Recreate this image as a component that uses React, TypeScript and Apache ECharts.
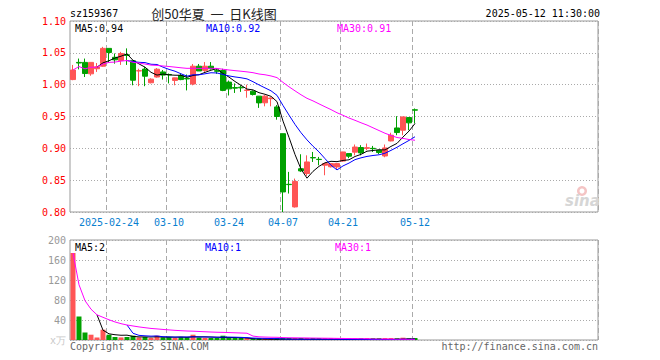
import React, { useEffect, useRef } from "react";
import * as echarts from "echarts";

const dates = [
  "2025-02-14","2025-02-17","2025-02-18","2025-02-19","2025-02-20","2025-02-21",
  "2025-02-24","2025-02-25","2025-02-26","2025-02-27","2025-02-28",
  "2025-03-03","2025-03-04","2025-03-05","2025-03-06","2025-03-07",
  "2025-03-10","2025-03-11","2025-03-12","2025-03-13","2025-03-14",
  "2025-03-17","2025-03-18","2025-03-19","2025-03-20","2025-03-21",
  "2025-03-24","2025-03-25","2025-03-26","2025-03-27","2025-03-28",
  "2025-03-31","2025-04-01","2025-04-02","2025-04-03",
  "2025-04-07","2025-04-08","2025-04-09","2025-04-10","2025-04-11",
  "2025-04-14","2025-04-15","2025-04-16","2025-04-17","2025-04-18",
  "2025-04-21","2025-04-22","2025-04-23","2025-04-24","2025-04-25",
  "2025-04-28","2025-04-29","2025-04-30",
  "2025-05-06","2025-05-07","2025-05-08","2025-05-09","2025-05-12",
];

const opens = [
  1.008,1.035,1.035,1.017,1.025,1.029,1.057,1.043,1.038,1.047,1.0375,
  1.0215,1.0245,1.003,1.012,1.020,1.016,1.0066,1.0145,1.010,1.001,
  1.029,1.0224,1.029,1.022,1.0223,1.004,0.9955,0.996,0.991,0.9898,
  0.982,0.9715,0.978,0.965,0.923,0.8435,0.808,0.868,0.8604,
  0.8855,0.8828,0.8735,0.871,0.8708,0.880,0.8918,0.894,0.9013,0.900,
  0.900,0.897,0.888,0.9116,0.932,0.9285,0.9484,0.9605,
];
const closes = [
  1.023,1.034,1.0175,1.035,1.028,1.057,1.0505,1.039,1.049,1.046,1.007,
  1.022,1.0133,1.0087,1.0243,1.015,1.0155,1.0107,1.008,1.009,1.029,
  1.0215,1.029,1.025,1.021,0.991,0.9934,0.9945,0.995,0.9915,0.9846,
  0.9714,0.982,0.979,0.950,0.8315,0.843,0.848,0.8645,0.8786,
  0.885,0.8824,0.876,0.876,0.876,0.8943,0.8876,0.902,0.8928,0.901,
  0.8995,0.8934,0.9006,0.9206,0.9248,0.9494,0.940,0.960,
];
const lows = [
  1.007,1.024,1.012,1.014,1.020,1.028,1.035,1.033,1.031,1.031,0.999,
  0.9976,0.9976,1.002,1.011,1.008,1.002,0.999,1.007,0.991,0.999,
  1.0217,1.020,1.0237,1.017,0.9898,0.983,0.987,0.9887,0.9795,0.983,
  0.9635,0.966,0.966,0.945,0.800,0.829,0.807,0.863,0.8566,
  0.8786,0.8734,0.8577,0.870,0.8675,0.879,0.8845,0.889,0.889,0.897,
  0.8943,0.891,0.886,0.911,0.9206,0.9206,0.9285,0.939,
];
const highs = [
  1.031,1.041,1.041,1.035,1.034,1.0594,1.057,1.049,1.0515,1.057,1.0385,
  1.025,1.028,1.010,1.026,1.023,1.0175,1.011,1.0175,1.016,1.0325,
  1.0325,1.0355,1.0355,1.025,1.025,1.0065,1.002,0.999,1.000,0.991,
  0.982,0.9835,0.980,0.968,0.923,0.863,0.8525,0.8907,0.889,
  0.8943,0.8865,0.877,0.877,0.877,0.8945,0.8918,0.906,0.905,0.9075,
  0.9038,0.897,0.906,0.9245,0.9505,0.9494,0.9484,0.9626,
];
const volumes = [
  174,47,15,10.6,5,20.6,10.6,6,5.2,6,8.6,
  5.2,6,4,8.6,5.2,6,4,6,6,10.6,
  5,4,4,4,8.6,5,3,2,1.5,1.5,
  1.5,1.2,1.2,1.8,2.5,1.5,1.5,1.2,1.2,
  2.5,1.2,1.0,1.0,1.0,1.2,1.0,1.0,0.8,0.9,
  0.7,0.8,1.0,1.2,1.5,4.6,1.0,2.2,
];

const tickDates = ["2025-02-24","2025-03-10","2025-03-24","2025-04-07","2025-04-21","2025-05-12"];
const tickLabels = ["2025-02-24","03-10","03-24","04-07","04-21","05-12"];

const TOTAL_SLOTS = 88;
const RED = "#ff5555";
const GREEN = "#00a000";
const MONO = "DejaVu Sans Mono";

function movingAvg(arr: number[], n: number, partial: boolean): (number | string)[] {
  return arr.map((_, i) => {
    if (i < n - 1 && !partial) return "-";
    const s = Math.max(0, i - n + 1);
    let sum = 0;
    for (let k = s; k <= i; k++) sum += arr[k];
    return sum / (i - s + 1);
  });
}

export default function App() {
  const ref = useRef<HTMLDivElement>(null);
  useEffect(() => {
    if (!ref.current) return;
    const chart = echarts.init(ref.current, undefined, { renderer: "svg" });
    const pads = Array.from({ length: TOTAL_SLOTS - dates.length }, (_, i) => "pad" + i);
    const cats = [...dates, ...pads];
    const isTick = (_i: number, v: string) => tickDates.indexOf(v) >= 0;
    const colorOf = (i: number) => (closes[i] >= opens[i] ? RED : GREEN);

    const candleData = dates.map((_, i) => {
      const c = colorOf(i);
      return {
        value: [opens[i], closes[i], lows[i], highs[i]],
        itemStyle: { color: c, color0: c, borderColor: c, borderColor0: c, borderWidth: 1 },
      };
    });
    const volData = volumes.map((v, i) => ({ value: v, itemStyle: { color: colorOf(i) } }));

    const ma5 = movingAvg(closes, 5, false);
    const ma10 = movingAvg(closes, 10, false);
    const ma30 = movingAvg(closes, 30, true);
    const vma5 = movingAvg(volumes, 5, false);
    const vma10 = movingAvg(volumes, 10, false);
    const vma30 = movingAvg(volumes, 30, true);
    const last = (a: (number | string)[]) => a[a.length - 1] as number;

    const xBase = (gridIndex: number, showLabels: boolean) => ({
      type: "category",
      gridIndex,
      data: cats,
      boundaryGap: true,
      axisLine: { show: false },
      axisTick: { show: false },
      axisLabel: {
        show: showLabels,
        interval: isTick,
        formatter: (v: string) => {
          const k = tickDates.indexOf(v);
          return k >= 0 ? tickLabels[k] : "";
        },
        color: "#0a80d0",
        fontFamily: MONO,
        fontSize: 10,
        margin: 5,
      },
      splitLine: { show: true, interval: isTick, lineStyle: { color: "#aaaaaa", type: [5, 3], width: 1 } },
    });

    const lineSeries = (name: string, data: any, color: string, xi: number, yi: number) => ({
      name,
      type: "line",
      data,
      xAxisIndex: xi,
      yAxisIndex: yi,
      symbol: "none",
      lineStyle: { color, width: 1 },
      itemStyle: { color },
      z: 5,
    });

    const txt = (text: string, x: number, y: number, fill: string, align = "left", extra: any = {}) => ({
      type: "text",
      x,
      y,
      style: {
        text,
        fill,
        font: `10px "${MONO}"`,
        textAlign: align,
        textVerticalAlign: "middle",
        ...extra,
      },
      z: 10,
    });

    chart.setOption({
      animation: false,
      grid: [
        { left: 70, top: 21, width: 528, height: 191, show: true, borderColor: "#999", borderWidth: 1, backgroundColor: "transparent" },
        { left: 70, top: 240, width: 528, height: 100, show: true, borderColor: "#999", borderWidth: 1, backgroundColor: "transparent" },
      ],
      xAxis: [xBase(0, true), xBase(1, false)],
      yAxis: [
        {
          type: "value",
          gridIndex: 0,
          min: 0.8,
          max: 1.1,
          interval: 0.05,
          axisLine: { show: false },
          axisTick: { show: false },
          axisLabel: { color: "#ff0000", fontFamily: MONO, fontSize: 10, margin: 4, formatter: (v: number) => v.toFixed(2) },
          splitLine: { show: true, lineStyle: { color: "#aaaaaa", type: [1, 2], width: 1 } },
        },
        {
          type: "value",
          gridIndex: 1,
          min: 0,
          max: 200,
          interval: 40,
          axisLine: { show: false },
          axisTick: { show: false },
          axisLabel: {
            color: "#999999",
            fontFamily: MONO,
            fontSize: 10,
            margin: 4,
            formatter: (v: number) => (v === 0 ? "{u|x万}" : String(v)),
            rich: { u: { color: "#c8c8c8", fontSize: 10, fontFamily: MONO } },
          },
          splitLine: { show: true, lineStyle: { color: "#aaaaaa", type: [1, 2], width: 1 } },
        },
      ],
      series: [
        {
          type: "candlestick",
          xAxisIndex: 0,
          yAxisIndex: 0,
          data: candleData,
          barWidth: 5,
          z: 3,
        },
        lineSeries("MA5", ma5, "#000000", 0, 0),
        lineSeries("MA10", ma10, "#0000ff", 0, 0),
        lineSeries("MA30", ma30, "#ff00ff", 0, 0),
        {
          type: "bar",
          xAxisIndex: 1,
          yAxisIndex: 1,
          data: volData,
          barWidth: 5,
          barMinHeight: 2,
          z: 3,
        },
        lineSeries("VMA5", vma5, "#000000", 1, 1),
        lineSeries("VMA10", vma10, "#0000ff", 1, 1),
        lineSeries("VMA30", vma30, "#ff00ff", 1, 1),
      ],
      graphic: [
        txt("sz159367", 70, 13, "#000"),
        txt("创50华夏  一  日K线图", 214, 13, "#222", "center", { font: '13px "Noto Sans CJK SC"' }),
        txt("2025-05-12 11:30:00", 600, 13, "#000", "right"),
        txt("MA5:" + last(ma5).toFixed(2), 75, 28, "#000"),
        txt("MA10:" + last(ma10).toFixed(2), 206, 28, "#0000ff"),
        txt("MA30:" + last(ma30).toFixed(2), 337, 28, "#ff00ff"),
        txt("MA5:" + Math.round(last(vma5)), 75, 247, "#000"),
        txt("MA10:" + Math.round(last(vma10)), 205, 247, "#0000ff"),
        txt("MA30:" + Math.round(last(vma30)), 335, 247, "#ff00ff"),
        txt("Copyright 2025 SINA.COM", 70, 346, "#666"),
        txt("http://finance.sina.com.cn", 598, 346, "#666", "right"),
        { type: "ring", shape: { cx: 582, cy: 191, r: 5, r0: 2.5 }, style: { fill: "#f4c4c4" }, z: 1 },
        txt("sina", 565, 201, "#d6d6d6", "left", { font: 'italic bold 15px "DejaVu Sans"' }),
      ],
    });
    return () => chart.dispose();
  }, []);
  return <div ref={ref} style={{ position: "absolute", left: 0, top: 0, width: 660, height: 360 }} />;
}
